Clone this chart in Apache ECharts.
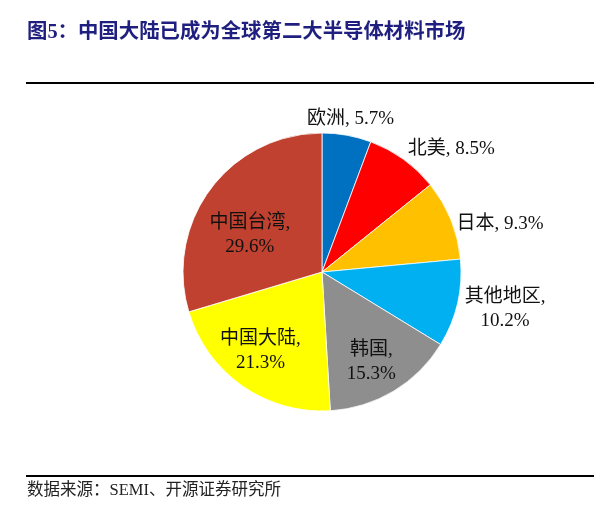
<!DOCTYPE html>
<html>
<head>
<meta charset="utf-8">
<script src="https://cdn.jsdelivr.net/npm/echarts@6/dist/echarts.min.js"></script>
<style>
  html, body { margin: 0; padding: 0; background: #fff; }
  #chart { width: 594px; height: 510px; }
</style>
</head>
<body>
<div id="chart"></div>
<script>
// 2020年全球半导体材料市场份额（%）
var regions = ['欧洲', '北美', '日本', '其他地区', '韩国', '中国大陆', '中国台湾'];
var shares = [5.7, 8.5, 9.3, 10.2, 15.3, 21.3, 29.6];
var sliceColors = ['#0070C0', '#FF0000', '#FFC000', '#00B0F0', '#8E8E8E', '#FFFF00', '#C0412F'];
// 标签放在扇区外 / 扇区内，是否换行
var labelOutside = [true, true, true, true, false, false, false];
var labelTwoLines = [false, false, false, true, true, true, true];
// 标签微调偏移
var labelShift = [[-3, -6], [37, -2], [35, 8], [33, 3], [12, 28], [-20, 20], [-14, 6]];

var serif = '"Liberation Serif", "Times New Roman", "Noto Sans CJK SC", serif';

var pieData = regions.map(function (name, i) {
    return {
        name: name,
        value: shares[i],
        itemStyle: { color: sliceColors[i] },
        label: {
            position: labelOutside[i] ? 'outside' : 'inside',
            formatter: labelTwoLines[i] ? '{b},\n{c}%' : '{b}, {c}%'
        }
    };
});

var myChart = echarts.init(document.getElementById('chart'));
var option = {
    backgroundColor: '#fff',
    animation: false,
    title: {
        text: '图5：中国大陆已成为全球第二大半导体材料市场',
        left: 27,
        top: 23,
        padding: 0,
        textStyle: {
            fontFamily: serif,
            fontSize: 20.4,
            fontWeight: 'bold',
            color: '#1F1F80'
        }
    },
    graphic: [
        { type: 'line', shape: { x1: 26, y1: 83, x2: 594, y2: 83 }, style: { stroke: '#000', lineWidth: 2 } },
        { type: 'line', shape: { x1: 26, y1: 476, x2: 594, y2: 476 }, style: { stroke: '#000', lineWidth: 2 } },
        {
            type: 'text', left: 27, top: 482,
            style: { text: '数据来源：SEMI、开源证券研究所', font: '16.5px ' + serif, fill: '#222' }
        }
    ],
    series: [{
        type: 'pie',
        center: [322, 272],
        radius: [0, 139],
        startAngle: 90,
        clockwise: true,
        avoidLabelOverlap: false,
        itemStyle: { borderColor: '#fff', borderWidth: 0.8 },
        label: {
            fontFamily: serif,
            fontSize: 19,
            lineHeight: 24,
            color: '#111'
        },
        labelLine: { show: false, length: 10, length2: 0 },
        emphasis: { disabled: true },
        labelLayout: function (params) {
            var s = labelShift[params.dataIndex];
            return { align: 'center', dx: s[0], dy: s[1] };
        },
        data: pieData
    }]
};
myChart.setOption(option);
</script>
</body>
</html>
